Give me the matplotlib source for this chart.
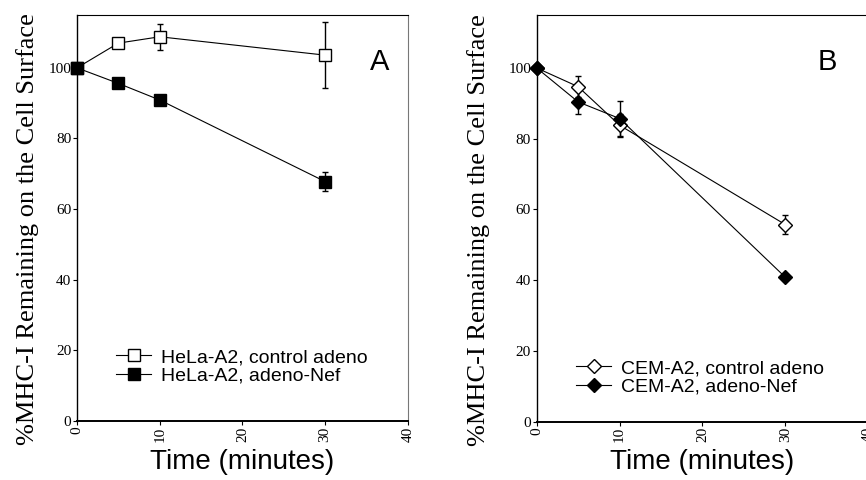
import numpy as np
import matplotlib
matplotlib.use("Agg")
import matplotlib.pyplot as plt

# panel A: HeLa-A2
time_a = [0, 5, 10, 30]
hela_ctrl = [100, 107.0, 108.8, 103.6]
hela_ctrl_err = [0, 0, 3.7, 9.3]
hela_nef = [100, 95.6, 90.9, 67.8]
hela_nef_err = [0, 0, 0, 2.7]

# panel B: CEM-A2
time_b = [0, 5, 10, 30]
cem_ctrl = [100, 94.7, 83.8, 55.7]
cem_ctrl_err = [0, 3.0, 3.3, 2.7]
cem_nef = [100, 90.4, 85.7, 40.8]
cem_nef_err = [0, 3.5, 4.9, 0]

xticks = [0, 10, 20, 30, 40]
yticks = [0, 20, 40, 60, 80, 100]
ylabel = "%MHC-I Remaining on the Cell Surface"

fig = plt.figure(figsize=(8.66, 4.8), dpi=100)
axA = fig.add_axes([0.0889, 0.123, 0.382, 0.846])
axB = fig.add_axes([0.6197, 0.1215, 0.383, 0.8475])

serif = "Liberation Serif"
sans = "Liberation Sans"


def style(ax, label_x):
    ax.set_xlim(0, 40)
    ax.set_ylim(0, 115)
    ax.set_xticks(xticks)
    ax.set_yticks(yticks)
    ax.set_xticklabels([str(t) for t in xticks], rotation=90, family=serif, fontsize=11)
    ax.set_yticklabels([str(t) for t in yticks], family=serif, fontsize=11)
    ax.tick_params(direction="out", length=3, width=0.8, pad=1)
    ax.spines["bottom"].set_linewidth(1.4)
    ax.spines["left"].set_linewidth(1.0)
    ax.spines["top"].set_linewidth(0.8)
    ax.spines["right"].set_linewidth(0.8)
    ax.spines["right"].set_color("#777777")
    ax.set_ylabel(ylabel, family=serif, fontsize=19)
    ax.yaxis.set_label_coords(label_x, 0.472)
    ax.set_xlabel("Time (minutes)", family=sans, fontsize=20, labelpad=5)


def series(ax, x, y, err, marker, ms, fill, label):
    ax.errorbar(x, y, yerr=err, fmt="none", ecolor="black", elinewidth=1.0,
                capsize=2.5, capthick=1.0, clip_on=False)
    ax.plot(x, y, color="black", lw=0.8, marker=marker, ms=ms, mfc=fill,
            mec="black", mew=1.0, label=label, clip_on=False, zorder=3)


style(axA, -0.115)
style(axB, -0.14)

series(axA, time_a, hela_ctrl, hela_ctrl_err, "s", 8, "white", "HeLa-A2, control adeno")
series(axA, time_a, hela_nef, hela_nef_err, "s", 9, "black", "HeLa-A2, adeno-Nef")
axA.text(0.945, 0.885, "A", transform=axA.transAxes, family=sans, fontsize=21,
         ha="right", va="center")
axA.legend(loc="lower left", bbox_to_anchor=(0.09, 0.065), frameon=False,
           prop={"family": sans, "size": 14}, handlelength=1.8,
           handletextpad=0.5, labelspacing=0.05, borderpad=0)

series(axB, time_b, cem_ctrl, cem_ctrl_err, "D", 7, "white", "CEM-A2, control adeno")
series(axB, time_b, cem_nef, cem_nef_err, "D", 7, "black", "CEM-A2, adeno-Nef")
axB.text(0.905, 0.885, "B", transform=axB.transAxes, family=sans, fontsize=21,
         ha="right", va="center")
axB.legend(loc="lower left", bbox_to_anchor=(0.09, 0.04), frameon=False,
           prop={"family": sans, "size": 14}, handlelength=1.8,
           handletextpad=0.5, labelspacing=0.05, borderpad=0)

fig.savefig("out.png", dpi=100)
